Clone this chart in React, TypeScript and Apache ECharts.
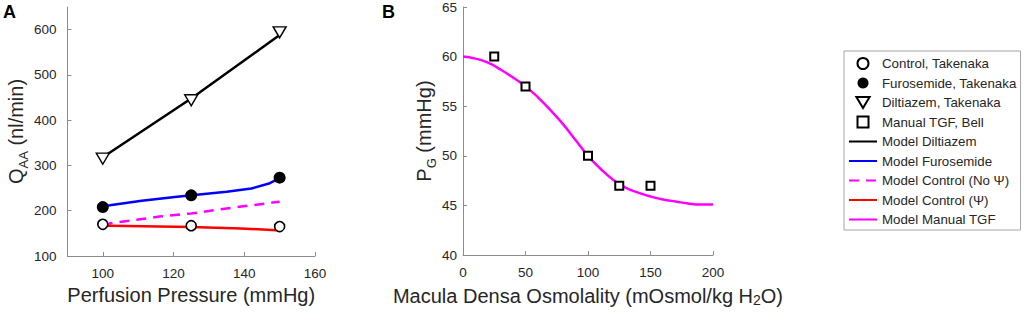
import React, { useEffect, useRef } from 'react';
import * as echarts from 'echarts';

// ---------- Panel A data (Perfusion pressure, mmHg) ----------
const pressurePoints = [100, 125, 150];
const controlTakenaka = [170, 167, 165];
const furosemideTakenaka = [208, 234, 273];
const diltiazemTakenaka = [315, 444, 594];

const modelDiltiazemX = [100, 125, 150];
const modelDiltiazemY = [318, 448, 588];

const modelFurosemideX = [100, 102, 111, 121, 135, 142, 147, 149, 150];
const modelFurosemideY = [210, 212, 222, 231, 242, 249, 260, 268, 270];

const modelControlNoPsiX = [100, 102, 116, 125, 135, 148, 150];
const modelControlNoPsiY = [168, 172, 187, 194, 205, 218, 220];

const modelControlPsiX = [100, 102, 125, 139, 149, 150];
const modelControlPsiY = [167, 167, 164, 161, 157, 157];

// ---------- Panel B data (Macula densa osmolality) ----------
const osmolalityPoints = [25, 50, 100, 125, 150];
const manualTgfBell = [60, 57, 50, 47, 47];

const modelTgfX = [0, 10, 20, 30, 40, 50, 60, 70, 80, 90, 100, 110, 120, 130, 140, 150, 160, 170, 180, 190, 200];
const modelTgfY = [60.0, 59.8, 59.4, 58.7, 57.9, 57.0, 55.9, 54.6, 53.2, 51.6, 50.0, 48.7, 47.6, 46.8, 46.3, 45.9, 45.6, 45.4, 45.2, 45.1, 45.1];

// ---------- Axis settings ----------
const axisATicksX = { min: 90, max: 160, splitNumber: 3 };
const axisATicksY = { min: 100, max: 650, interval: 100 };
const axisBTicksX = { min: 0, max: 200, interval: 50 };
const axisBTicksY = { min: 40, max: 65, interval: 5 };

const legendNames = [
  'Control, Takenaka',
  'Furosemide, Takenaka',
  'Diltiazem, Takenaka',
  'Manual TGF, Bell',
  'Model Diltiazem',
  'Model Furosemide',
  'Model Control (No Ψ)',
  'Model Control (Ψ)',
  'Model Manual TGF',
];

const FONT = '"Liberation Sans", Arial, Helvetica, sans-serif';
const TEXT = '#262626';
const AXIS = '#8c8c8c';

const zip = (xs: number[], ys: number[]) => xs.map((x, i) => [x, ys[i]]);

function baseAxis(gridIndex: number, labelMargin: number) {
  return {
    type: 'value' as const,
    gridIndex,
    axisLine: { show: true, onZero: false, lineStyle: { color: AXIS, width: 1 } },
    axisTick: { show: true, inside: true, length: 4, lineStyle: { color: AXIS, width: 1 } },
    axisLabel: { fontSize: 13.5, color: TEXT, fontFamily: FONT, margin: labelMargin },
    splitLine: { show: false },
    nameLocation: 'middle' as const,
    nameTextStyle: { fontSize: 20, color: TEXT, fontFamily: FONT },
  };
}

const mainTok = { fontSize: 20, lineHeight: 20, fontFamily: FONT, color: TEXT, verticalAlign: 'top' };

const DOWN_TRIANGLE = 'path://M0,0 L12,0 L6,10 Z';

export default function App() {
  const ref = useRef<HTMLDivElement>(null);

  useEffect(() => {
    if (!ref.current) return;
    const chart = echarts.init(ref.current, undefined, { renderer: 'svg' });

    const legendData = legendNames.map((name, i) => {
      if (i === 0) return { name, icon: 'circle' };
      if (i === 1) return { name, icon: 'circle', itemStyle: { borderWidth: 0 } };
      if (i === 2) return { name, icon: DOWN_TRIANGLE, symbolKeepAspect: true };
      if (i === 3) return { name, icon: 'path://M0,0 L10,0 L10,10 L0,10 Z', symbolKeepAspect: true };
      return { name, itemStyle: { opacity: 0 } };
    });

    const option: any = {
      animation: false,
      backgroundColor: '#ffffff',
      textStyle: { fontFamily: FONT },
      grid: [
        { left: 64, top: 7, width: 251, height: 249 },
        { left: 463, top: 7, width: 250, height: 249 },
      ],
      xAxis: [
        {
          ...baseAxis(0, 10),
          ...axisATicksX,
          axisLabel: { ...baseAxis(0, 10).axisLabel, showMinLabel: false },
          name: 'Perfusion Pressure (mmHg)',
          nameGap: 23,
        },
        {
          ...baseAxis(1, 10),
          ...axisBTicksX,
          name: '{m|Macula Densa Osmolality (mOsmol/kg H}{s|2}{m|O)}',
          nameGap: 25,
          nameTextStyle: {
            fontSize: 20,
            color: TEXT,
            fontFamily: FONT,
            rich: {
              m: mainTok,
              s: { fontSize: 14, lineHeight: 14, fontFamily: FONT, color: TEXT, padding: [9, 0, 0, 0] },
            },
          },
        },
      ],
      yAxis: [
        {
          ...baseAxis(0, 11),
          ...axisATicksY,
          axisLabel: { ...baseAxis(0, 11).axisLabel, showMaxLabel: false },
          name: '{m|Q}{s|AA}{m| (nl/min)}',
          nameGap: 40,
          nameTextStyle: {
            fontSize: 20,
            color: TEXT,
            fontFamily: FONT,
            rich: {
              m: mainTok,
              s: { fontSize: 13, lineHeight: 13, fontFamily: FONT, color: TEXT, padding: [16, 0, 0, 0] },
            },
          },
        },
        {
          ...baseAxis(1, 6),
          ...axisBTicksY,
          name: '{m|P}{s|G}{m| (mmHg)}',
          nameGap: 29,
          nameTextStyle: {
            fontSize: 20,
            color: TEXT,
            fontFamily: FONT,
            rich: {
              m: mainTok,
              s: { fontSize: 13, lineHeight: 13, fontFamily: FONT, color: TEXT, padding: [16, 0, 0, 0] },
            },
          },
        },
      ],
      legend: {
        orient: 'vertical',
        left: 844,
        top: 51,
        padding: [6, 4, 4, 4],
        itemWidth: 28,
        itemHeight: 11,
        itemGap: 6.5,
        symbolKeepAspect: true,
        backgroundColor: '#ffffff',
        borderColor: '#a6a6a6',
        borderWidth: 1,
        borderRadius: 0,
        selectedMode: false,
        textStyle: { fontSize: 13.3, lineHeight: 11, color: TEXT, fontFamily: FONT },
        data: legendData,
      },
      graphic: [
        { type: 'text', left: 3, top: 3, style: { text: 'A', font: `bold 18px ${FONT}`, fill: '#000' } },
        { type: 'text', left: 382, top: 3, style: { text: 'B', font: `bold 18px ${FONT}`, fill: '#000' } },
      ],
      series: [
        {
          name: legendNames[4],
          type: 'line',
          xAxisIndex: 0,
          yAxisIndex: 0,
          symbol: 'none',
          data: zip(modelDiltiazemX, modelDiltiazemY),
          lineStyle: { color: '#000000', width: 2.5 },
          itemStyle: { color: '#000000' },
          z: 2,
        },
        {
          name: legendNames[5],
          type: 'line',
          xAxisIndex: 0,
          yAxisIndex: 0,
          symbol: 'none',
          data: zip(modelFurosemideX, modelFurosemideY),
          lineStyle: { color: '#0000ff', width: 2.5 },
          itemStyle: { color: '#0000ff' },
          z: 2,
        },
        {
          name: legendNames[6],
          type: 'line',
          xAxisIndex: 0,
          yAxisIndex: 0,
          symbol: 'none',
          data: zip(modelControlNoPsiX, modelControlNoPsiY),
          lineStyle: { color: '#ff00ff', width: 2.5, type: [10, 7] },
          itemStyle: { color: '#ff00ff' },
          z: 2,
        },
        {
          name: legendNames[7],
          type: 'line',
          xAxisIndex: 0,
          yAxisIndex: 0,
          symbol: 'none',
          data: zip(modelControlPsiX, modelControlPsiY),
          lineStyle: { color: '#ff0000', width: 2.5 },
          itemStyle: { color: '#ff0000' },
          z: 2,
        },
        {
          name: legendNames[8],
          type: 'line',
          xAxisIndex: 1,
          yAxisIndex: 1,
          symbol: 'none',
          smooth: true,
          data: zip(modelTgfX, modelTgfY),
          lineStyle: { color: '#ff00ff', width: 2.5 },
          itemStyle: { color: '#ff00ff' },
          z: 2,
        },
        {
          name: legendNames[0],
          type: 'scatter',
          xAxisIndex: 0,
          yAxisIndex: 0,
          symbol: 'circle',
          symbolSize: 10,
          data: zip(pressurePoints, controlTakenaka),
          itemStyle: { color: '#ffffff', borderColor: '#000000', borderWidth: 1.6, opacity: 1 },
          z: 5,
        },
        {
          name: legendNames[1],
          type: 'scatter',
          xAxisIndex: 0,
          yAxisIndex: 0,
          symbol: 'circle',
          symbolSize: 12,
          data: zip(pressurePoints, furosemideTakenaka),
          itemStyle: { color: '#000000', borderColor: '#000000', borderWidth: 0, opacity: 1 },
          z: 5,
        },
        {
          name: legendNames[2],
          type: 'scatter',
          xAxisIndex: 0,
          yAxisIndex: 0,
          symbol: 'triangle',
          symbolRotate: 180,
          symbolSize: [13, 11],
          data: zip(pressurePoints, diltiazemTakenaka),
          itemStyle: { color: '#ffffff', borderColor: '#000000', borderWidth: 1.4, opacity: 1 },
          z: 5,
        },
        {
          name: legendNames[3],
          type: 'scatter',
          xAxisIndex: 1,
          yAxisIndex: 1,
          symbol: 'rect',
          symbolSize: 8,
          data: zip(osmolalityPoints, manualTgfBell),
          itemStyle: { color: '#ffffff', borderColor: '#000000', borderWidth: 2, opacity: 1 },
          z: 5,
        },
      ],
    };

    chart.setOption(option);
    return () => chart.dispose();
  }, []);

  return (
    <div
      ref={ref}
      style={{ position: 'fixed', left: 0, top: 0, width: 1024, height: 312, background: '#fff' }}
    />
  );
}
